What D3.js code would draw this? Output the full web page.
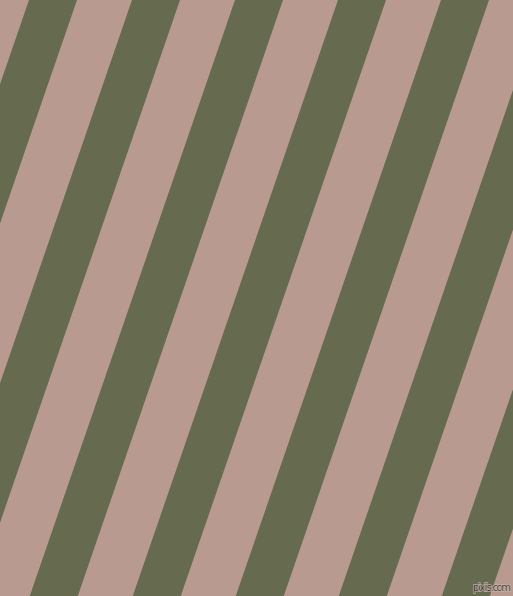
<!DOCTYPE html>
<html>
<head>
<meta charset="utf-8">
<script src="https://cdn.jsdelivr.net/npm/d3@7"></script>
<style>
html, body { margin: 0; padding: 0; background: #b89a90; overflow: hidden; }
svg { display: block; }
</style>
</head>
<body>
<svg id="view"></svg>
<script>
// stripe pattern: repeating green bands over a pink ground
var bandIndex = [-2, -1, 0, 1, 2, 3, 4, 5, 6, 7];
var bandColors = ["#b89a90", "#666b4f"];   // ground, band
var bandAngle = 71;                        // degrees from horizontal
var watermark = ["pixiis.com"];

var width = 513, height = 596;
var svg = d3.select("#view").attr("width", width).attr("height", height);

// left edge of each green band where it meets the top edge
var x = d3.scaleLinear().domain([0, 1]).range([29, 132]);
var bandW = 48;
var lean = height / Math.tan(bandAngle * Math.PI / 180);

svg.append("rect")
	.attr("width", width).attr("height", height)
	.attr("fill", bandColors[0]);

var line = d3.line();
svg.append("g").selectAll("path")
	.data(bandIndex)
	.join("path")
	.attr("fill", bandColors[1])
	.attr("d", d => line([
		[x(d), 0],
		[x(d) + bandW, 0],
		[x(d) + bandW - lean, height],
		[x(d) - lean, height]
	]) + "Z");

svg.append("g").selectAll("text")
	.data(watermark)
	.join("text")
	.attr("x", width - 2)
	.attr("y", height - 5)
	.attr("text-anchor", "end")
	.attr("font-family", "DejaVu Sans, sans-serif")
	.attr("font-size", 10)
	.attr("textLength", 38)
	.attr("fill", "#3a3a30")
	.attr("stroke", "#cbb8b0")
	.attr("stroke-width", 1.4)
	.attr("paint-order", "stroke")
	.attr("opacity", 0.85)
	.text(d => d);
</script>
</body>
</html>
